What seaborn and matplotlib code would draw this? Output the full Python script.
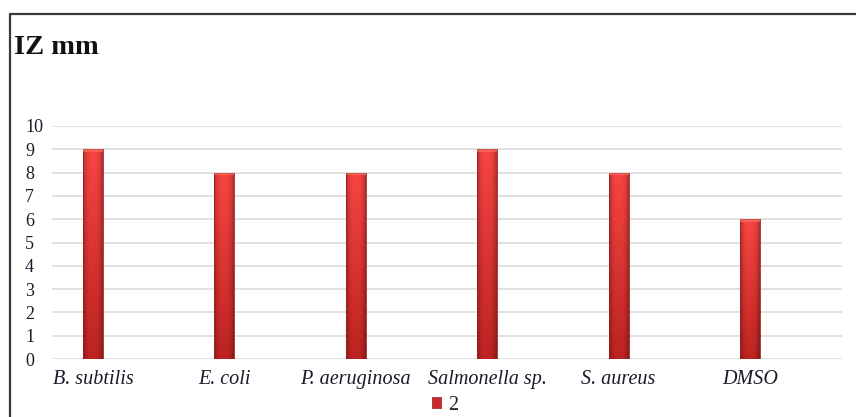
import numpy as np
import pandas as pd
import matplotlib
matplotlib.use("Agg")
import matplotlib.pyplot as plt
from matplotlib.lines import Line2D
from matplotlib.patches import Rectangle
import seaborn as sns

# Inhibition zone diameters (mm) per test organism
organisms = ["B. subtilis", "E. coli", "P. aeruginosa", "Salmonella sp.", "S. aureus", "DMSO"]
zone_mm = [9, 8, 8, 9, 8, 6]
series_name = "2"
y_ticks = list(range(0, 11))

df = pd.DataFrame({"organism": organisms, "zone": zone_mm, "series": series_name})

sns.set_theme(style="white")
plt.rcParams["font.family"] = ["Liberation Serif", "DejaVu Serif"]

W, H = 856, 417
fig = plt.figure(figsize=(W / 100, H / 100), dpi=100)
ax = fig.add_axes([52 / W, (H - 359) / H, (842 - 52) / W, (359 - 126) / H])

sns.barplot(data=df, x="organism", y="zone", hue="series", palette=["#d42a2a"],
            width=0.152, dodge=False, ax=ax, legend=False)

ax.set_xlim(-0.312, 5.70)
ax.set_ylim(0, 10)
ax.set_yticks(y_ticks)
ax.set_yticklabels([str(t) for t in y_ticks], fontsize=13, color="#1a1a2a", ha="left")
ax.tick_params(axis="y", length=0, pad=19.5)
ax.tick_params(axis="x", length=0, pad=8)
ax.set_xticks(range(len(organisms)))
ax.set_xticklabels(organisms, fontsize=14.5, style="italic", color="#1a1a2a")
ax.set_xlabel("")
ax.set_ylabel("")
for s in ax.spines.values():
    s.set_visible(False)
ax.grid(axis="y", color="#dcdcdc", linewidth=1.2)
ax.set_axisbelow(True)

# Shaded fill for each bar: bright top, darker bottom, darker edges
ny, nx = 64, 32
yy = np.linspace(1, 0, ny)[:, None]
xx = np.linspace(-1, 1, nx)[None, :]
top = np.array([0.97, 0.27, 0.26])
bot = np.array([0.74, 0.14, 0.13])
base = bot + (top - bot) * yy[..., None]
edge = 1 - 0.30 * np.abs(xx[..., None]) ** 3
img = np.clip(base * edge, 0, 1)
for p in ax.patches:
    x0, y0 = p.get_x(), p.get_y()
    w, h = p.get_width(), p.get_height()
    if h <= 0:
        continue
    p.set_facecolor("none")
    p.set_edgecolor("#a01c1c")
    p.set_linewidth(0.6)
    im = ax.imshow(img, extent=[x0, x0 + w, y0, y0 + h], aspect="auto",
                   zorder=p.get_zorder() - 0.01, interpolation="bilinear")
    im.set_clip_path(p)
    # lighter cap at the top
    ax.add_patch(Rectangle((x0, y0 + h - 0.12), w, 0.12, facecolor="#ff7a6a",
                           edgecolor="none", alpha=0.55, zorder=p.get_zorder() + 0.01))

# Legend
handle = Rectangle((0, 0), 1, 1, facecolor="#cc2a2a", edgecolor="#9a1a1a", linewidth=0.5)
fig.legend([handle], [series_name], loc="center", bbox_to_anchor=(445 / W, 1 - 405 / H),
           frameon=False, fontsize=14.5, handlelength=0.45, handleheight=0.45,
           handletextpad=0.35, borderpad=0)

# Chart title
fig.text(14 / W, 1 - 48 / H, "IZ mm", fontsize=20.5, fontweight="bold",
         color="#111111", ha="left", va="center")

# Chart frame (left and top edges)
fig.add_artist(Line2D([9.5 / W, 9.5 / W], [0, 1 - 14 / H], transform=fig.transFigure,
                      color="#3a3a3a", linewidth=1.6))
fig.add_artist(Line2D([9.5 / W, 1], [1 - 14 / H, 1 - 14 / H], transform=fig.transFigure,
                      color="#3a3a3a", linewidth=1.6))

fig.savefig("out.png", dpi=100)
